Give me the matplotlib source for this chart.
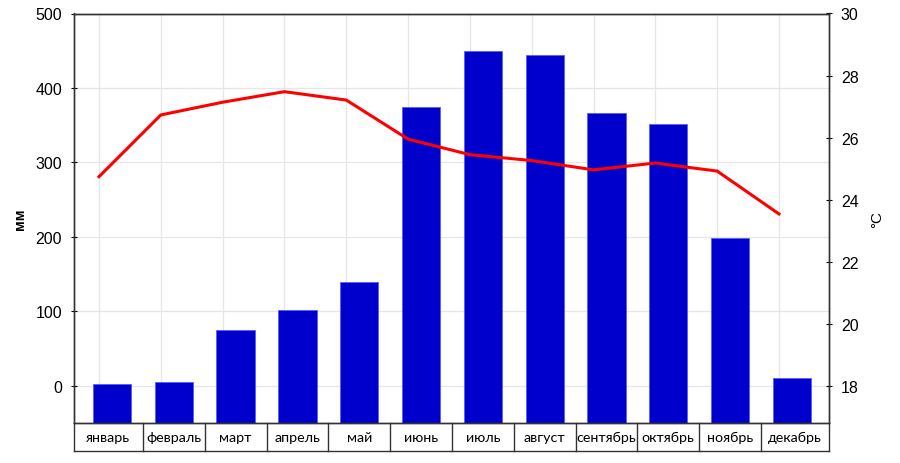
import matplotlib
matplotlib.use("Agg")
import matplotlib.pyplot as plt
import matplotlib.transforms as mtransforms
import numpy as np

plt.rcParams['font.family'] = ['Liberation Sans', 'DejaVu Sans']

months = ["январь", "февраль", "март", "апрель", "май", "июнь",
          "июль", "август", "сентябрь", "октябрь", "ноябрь", "декабрь"]
precip_mm = [3, 5, 75, 102, 140, 375, 450, 444, 367, 352, 199, 11]
temp_c = [24.74, 26.73, 27.14, 27.48, 27.21, 25.95, 25.45, 25.26, 24.96, 25.18, 24.92, 23.54]
left_ticks = [0, 100, 200, 300, 400, 500]
right_ticks = [18, 20, 22, 24, 26, 28, 30]

fig = plt.figure(figsize=(9, 4.64), dpi=100)
ax = fig.add_axes([74/900, 1 - 424/464, (829 - 74)/900, (424 - 14.5)/464])
ax2 = ax.twinx()

x = np.arange(len(months))
line_off = -0.21
xl, xr = -0.615, 11.6
ybot = -50

# grid
ax.set_axisbelow(True)
for xi in x + line_off:
    ax.axvline(xi, color='#e6e6e6', lw=0.9, zorder=0)
for yt in left_ticks:
    ax.axhline(yt, color='#e6e6e6', lw=0.9, zorder=0)

heights = [v - ybot for v in precip_mm]
ax.bar(x, heights, bottom=ybot, width=0.62, color='#0000CC', edgecolor='#5a5aff',
       linewidth=0.6, zorder=2)
ax.set_xlim(xl, xr)
ax.set_ylim(ybot, 500)
ax.set_yticks(left_ticks)
ax.set_xticks([])
ax.tick_params(axis='y', direction='inout', length=5, labelsize=11.5, pad=6)
ax.set_ylabel('мм', fontsize=10.5, fontweight='bold', labelpad=6)

ax2.plot(x + line_off, temp_c, color='#ff0000', lw=2.2, zorder=3)
ax2.set_ylim(16.8, 30)
ax2.set_yticks(right_ticks)
ax2.tick_params(axis='y', direction='inout', length=5, labelsize=11.5, pad=6)
ax2.set_ylabel('°C', fontsize=11, labelpad=8)
ax2.set_xlim(xl, xr)

for a in (ax, ax2):
    for s in a.spines.values():
        s.set_color('#333333')
        s.set_linewidth(1.0)

# category table under the axes
trans = mtransforms.blended_transform_factory(ax.transData, ax.transAxes)
tb = -(452 - 424) / (424 - 14.5)
edges = [xl] + [i + 0.5 for i in range(len(months) - 1)] + [xr]
ax.plot([xl, xr], [tb, tb], transform=trans, color='#333333', lw=1.0, clip_on=False)
for e in edges:
    ax.plot([e, e], [0, tb], transform=trans, color='#333333', lw=1.0, clip_on=False)
for i, m in enumerate(months):
    cx = (edges[i] + edges[i + 1]) / 2
    ax.text(cx, tb / 2, m, transform=trans, ha='center', va='center', fontsize=10.3,
            family=['Lato', 'DejaVu Sans'])

fig.savefig('out.png', dpi=100)
